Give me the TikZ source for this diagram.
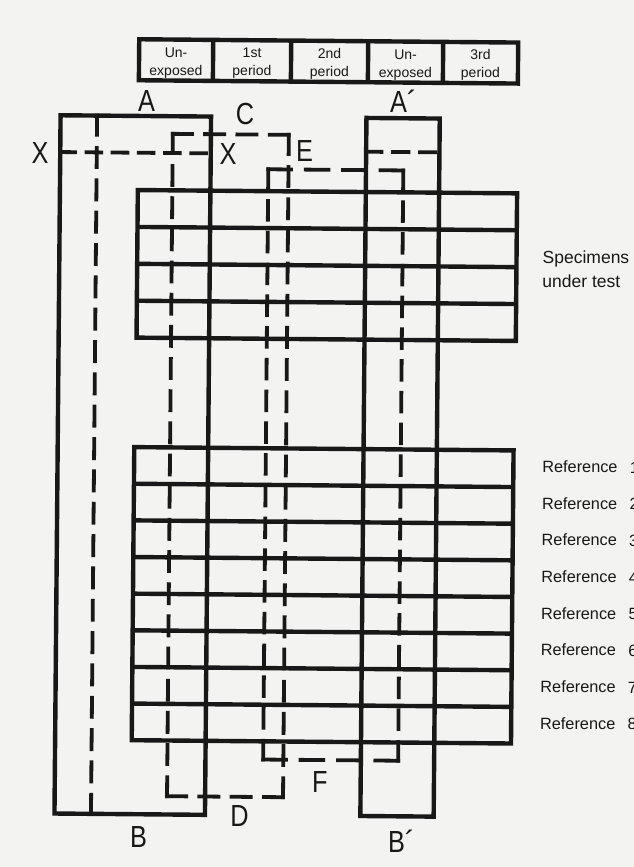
\documentclass[tikz,border=0pt]{standalone}
\usepackage{fontspec}
\usepackage{graphicx}
\setmainfont{Liberation Sans}
\definecolor{paper}{RGB}{243,243,241}
\definecolor{ink}{RGB}{24,24,24}
\tikzset{
  solidline/.style={draw=ink,line width=4.4pt,line join=miter},
  dashstroke/.style={draw=ink,line width=3.8pt,line cap=rect},
  letter/.style={inner sep=0pt,text=ink,font=\fontsize{30.5}{32}\selectfont},
  cell/.style={inner sep=0pt,text=ink,anchor=base,font=\fontsize{14}{16}\selectfont},
  sidelabel/.style={inner sep=0pt,text=ink,anchor=base west},
}
% A dashed side from (#2,#3) to (#4,#5) whose two ends both fall on a dash;
% the optional argument is the visible dash length (gap = 9/22 of it).
\newcommand{\dashside}[5][23]{%
  \pgfmathsetmacro{\dslen}{veclen(#4-#2,#5-#3)}%
  \pgfmathsetmacro{\dsgap}{#1*9/22}%
  \pgfmathsetmacro{\dsnum}{max(1,round((\dslen+\dsgap)/(#1+\dsgap)))}%
  \pgfmathsetmacro{\dsscale}{(\dslen+3.8)/(\dsnum*#1+(\dsnum-1)*\dsgap)}%
  \pgfmathsetmacro{\dson}{#1*\dsscale-3.8}%
  \pgfmathsetmacro{\dsoff}{\dsgap*\dsscale+3.8}%
  \draw[dashstroke,dash pattern=on \dson pt off \dsoff pt] (#2,#3) -- (#4,#5);%
}
\newcommand{\narrow}[1]{\scalebox{0.83}[1]{#1}}
\begin{document}
\begin{tikzpicture}[x=1pt,y=-1pt]
\fill[paper] (0,0) rectangle (634,867);
\useasboundingbox (0,0) rectangle (634,867);
\begin{scope}[rotate around={-0.5:(317,433)}]
  % header strip of exposure periods
  \draw[solidline] (135.8,40.8) rectangle (514.8,81.8);
  \foreach \x in {209.8,287.8,364.8,439.8}
    \draw[solidline] (\x,40.8) -- (\x,81.8);
  \foreach \cx/\la/\lb [count=\k] in {172.8/Un-/exposed, 248.8/1st/period,
      326.3/2nd/period, 402.3/Un-/exposed, 477.3/3rd/period} {
    \node[cell] (head\k-a) at (\cx,58.5) {\la};
    \node[cell] (head\k-b) at (\cx,76.5) {\lb};
  }

  % opaque covers A--B and A'--B'
  \draw[solidline] (57.8,117.5) rectangle (208.3,815.8);
  \draw[solidline] (363.7,117.5) rectangle (437,815.6);

  % specimens under test: four strips
  \draw[solidline] (135.7,191.6) rectangle (515,339.2);
  \foreach \y in {228.5,265.4,302.3}
    \draw[solidline] (135.7,\y) -- (515,\y);

  % reference strips 1 to 8
  \draw[solidline] (134.4,448.7) rectangle (513.7,741.8);
  \foreach \i in {1,...,7}
    \draw[solidline] (134.4,{448.7+36.64*\i}) -- (513.7,{448.7+36.64*\i});

  % fold line inside A--B
  \dashside{94.3}{117.5}{94.3}{815.8}
  % X--X fold lines
  \dashside[18]{57.8}{154.3}{203.5}{154.3}
  \dashside[18]{363.7}{151.3}{433}{151.3}
  % cover C--D
  \dashside{170.2}{797.5}{170.2}{135.1}
  \dashside{170.2}{135.1}{286.2}{135.1}
  \dashside{286.2}{135.1}{286.2}{797.5}
  \dashside{286.2}{797.5}{170.2}{797.5}
  % cover E--F
  \dashside{266}{760}{266}{169.7}
  \dashside{266}{169.7}{401}{169.7}
  \dashside{401}{169.7}{401}{760}
  \dashside{401}{760}{266}{760}

  % letters
  \node[letter] (lA)  at (143.6,102.5) {\narrow{A}};
  \node[letter] (lA2) at (395.6,100.3) {\narrow{A}\rlap{´}};
  \node[letter] (lC)  at (242.2,114.6) {\narrow{C}};
  \node[letter] (lX1) at (37.6,155.9)  {\narrow{X}};
  \node[letter] (lX2) at (225.6,154.3) {\narrow{X}};
  \node[letter] (lE)  at (302,151.1)   {\narrow{E}};
  \node[letter] (lB)  at (142,839)     {\narrow{B}};
  \node[letter] (lD)  at (242.8,816.7) {\narrow{D}};
  \node[letter] (lF)  at (323,781.5)   {\narrow{F}};
  \node[letter] (lB2) at (400,840.3)   {\narrow{B}\rlap{´}};

  % side labels
  \node[sidelabel,font=\fontsize{17.5}{20}\selectfont] (spec1) at (541,262) {Specimens};
  \node[sidelabel,font=\fontsize{17.5}{20}\selectfont] (spec2) at (541,286) {under test};
  \foreach \i in {1,...,8} {
    \node[sidelabel,font=\fontsize{16.3}{18}\selectfont] (ref\i)
      at (542.5,{448.7+36.64*(\i-0.5)+3.6}) {Reference};
    \node[sidelabel,font=\fontsize{16.3}{18}\selectfont] (refnum\i)
      at (630,{448.7+36.64*(\i-0.5)+3.6}) {\i};
  }
\end{scope}
\end{tikzpicture}
\end{document}
